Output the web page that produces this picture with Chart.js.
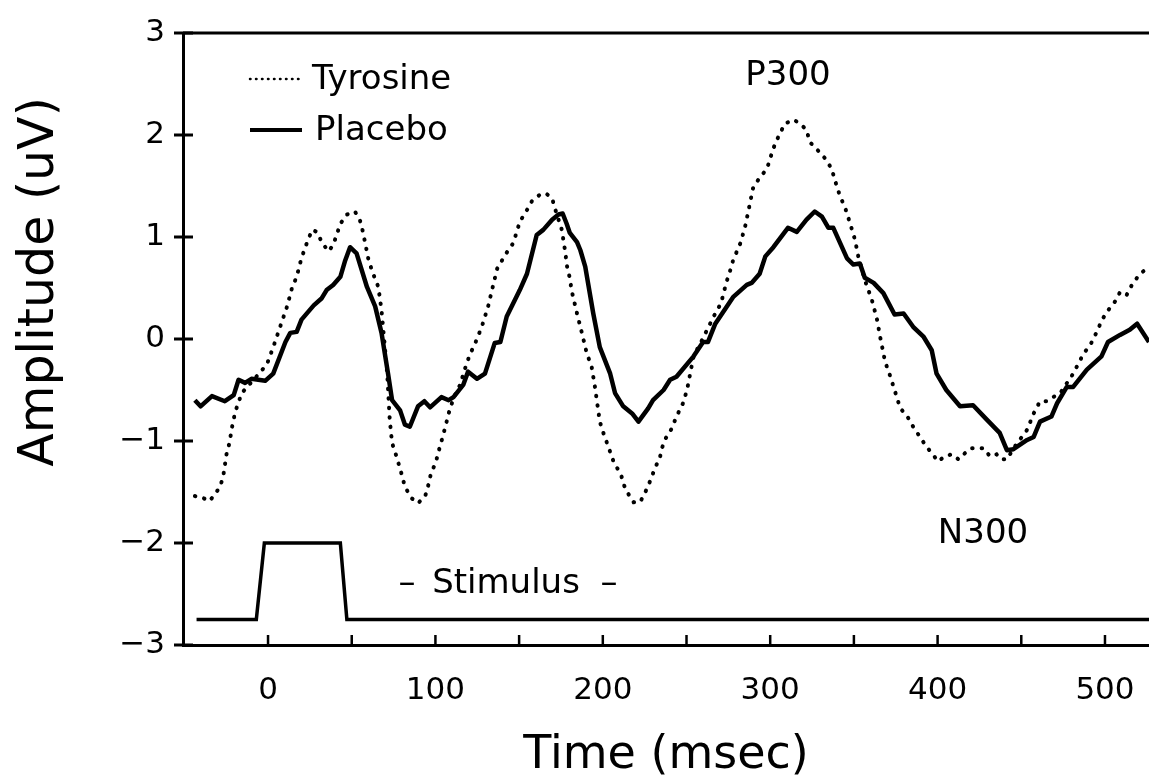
<!DOCTYPE html>
<html>
<head>
<meta charset="utf-8">
<title>Tyrosine vs Placebo</title>
<script src="https://cdn.jsdelivr.net/npm/chart.js@4.4.1/dist/chart.umd.min.js"></script>
<style>
  html, body { margin: 0; padding: 0; background: #fff; }
  #wrap { width: 1149px; height: 780px; }
</style>
</head>
<body>
<div id="wrap"><canvas id="erpChart" width="1149" height="780"></canvas></div>
<script>
// =============================
// Data
// =============================

const tyrosineTime = [
  -43.7, -39.8, -35.0, -32.1, -28.7, -26.8, -25.8, -24.8, -22.9, -22.0,
  -21.0, -19.5, -15.7, -7.0, -0.7, 3.1, 6.0, 8.9, 11.4, 14.3,
  17.1, 19.6, 22.0, 26.3, 29.2, 32.1, 36.0, 38.9, 43.2, 47.1,
  51.9, 54.8, 56.7, 60.1, 63.0, 65.9, 67.8, 69.8, 71.2, 72.7,
  74.1, 76.5, 79.4, 81.8, 85.7, 89.6, 93.9, 95.8, 97.3, 100.2,
  102.1, 104.5, 106.4, 107.9, 110.8, 114.7, 117.5, 120.4, 123.8, 127.7,
  131.5, 133.5, 136.9, 141.2, 143.1, 146.5, 148.4, 150.4, 154.2, 157.6,
  162.0, 165.8, 169.7, 171.6, 175.5, 177.4, 178.9, 180.3, 181.3, 184.6,
  187.5, 190.4, 193.3, 195.3, 198.2, 200.1, 202.5, 204.9, 206.8, 210.7,
  212.6, 214.1, 218.4, 222.3, 225.7, 228.6, 231.5, 233.9, 235.3, 237.7,
  241.1, 244.0, 247.9, 250.3, 254.2, 259.9, 266.2, 270.6, 273.9, 275.9,
  277.8, 282.2, 285.0, 287.9, 289.9, 293.7, 298.1, 300.0, 301.9, 304.8,
  308.7, 314.0, 317.9, 321.7, 323.7, 329.0, 332.8, 336.7, 338.6, 341.5,
  344.9, 347.8, 350.7, 352.6, 356.5, 360.8, 363.7, 365.7, 368.6, 371.4,
  374.3, 377.7, 381.6, 385.4, 392.7, 396.5, 400.4, 404.3, 408.6, 412.5,
  416.3, 420.2, 427.4, 431.3, 435.2, 438.1, 441.4, 446.3, 453.5, 457.4,
  461.2, 465.1, 469.0, 473.3, 481.0, 487.3, 491.2, 496.0, 497.9, 501.8,
  506.1, 509.0, 512.9, 516.7, 521.1, 524.9, 526.3
];
const tyrosineUV = [
  -1.54, -1.55, -1.59, -1.53, -1.45, -1.35, -1.24, -1.13, -1.01, -0.91,
  -0.82, -0.71, -0.53, -0.37, -0.25, -0.08, 0.06, 0.2, 0.32, 0.5,
  0.61, 0.77, 0.89, 1.07, 1.05, 0.95, 0.86, 0.92, 1.13, 1.22,
  1.25, 1.17, 1.05, 0.77, 0.63, 0.51, 0.28, -0.08, -0.34, -0.79,
  -1.02, -1.14, -1.3, -1.45, -1.56, -1.61, -1.54, -1.43, -1.32, -1.21,
  -1.09, -0.95, -0.83, -0.73, -0.58, -0.45, -0.3, -0.16, -0.04, 0.12,
  0.32, 0.46, 0.69, 0.81, 0.86, 0.94, 1.04, 1.15, 1.25, 1.35,
  1.41, 1.43, 1.38, 1.27, 1.07, 0.87, 0.68, 0.6, 0.48, 0.25,
  0.06, -0.14, -0.27, -0.47, -0.81, -0.91, -1.02, -1.13, -1.22, -1.32,
  -1.43, -1.49, -1.6, -1.6, -1.49, -1.38, -1.25, -1.18, -1.07, -0.97,
  -0.88, -0.76, -0.63, -0.5, -0.17, 0.01, 0.22, 0.35, 0.56, 0.66,
  0.77, 0.94, 1.1, 1.33, 1.49, 1.58, 1.67, 1.77, 1.87, 1.98,
  2.11, 2.15, 2.11, 2.05, 1.93, 1.84, 1.77, 1.67, 1.56, 1.41,
  1.28, 1.13, 0.97, 0.81, 0.58, 0.38, 0.2, 0.02, -0.22, -0.35,
  -0.5, -0.68, -0.75, -0.86, -1.04, -1.12, -1.2, -1.15, -1.13, -1.18,
  -1.12, -1.07, -1.07, -1.15, -1.13, -1.18, -1.18, -1.05, -0.89, -0.73,
  -0.61, -0.61, -0.57, -0.53, -0.34, -0.14, -0.06, 0.1, 0.18, 0.28,
  0.37, 0.46, 0.43, 0.55, 0.64, 0.69, 0.7
];

const placeboTime = [
  -43.7, -40.3, -33.5, -25.8, -20.5, -17.6, -13.7, -9.9, -1.7, 3.1,
  10.4, 13.3, 17.1, 20.0, 27.3, 32.1, 35.0, 38.9, 43.2, 46.1,
  49.0, 52.9, 59.1, 64.0, 67.8, 71.7, 74.1, 78.9, 81.8, 84.7,
  89.6, 93.4, 96.8, 103.6, 107.9, 110.8, 116.6, 119.5, 124.8, 129.6,
  135.4, 138.8, 142.6, 150.4, 154.7, 160.5, 164.4, 169.7, 173.5, 176.0,
  178.4, 180.3, 184.6, 186.6, 189.5, 194.3, 198.2, 204.4, 207.3, 212.2,
  217.5, 221.3, 227.1, 230.0, 236.3, 240.2, 244.0, 254.2, 259.9, 262.8,
  267.2, 277.8, 286.0, 288.9, 293.7, 297.1, 301.9, 310.6, 315.9, 321.7,
  326.6, 330.9, 334.8, 337.7, 345.9, 349.7, 353.6, 356.5, 361.8, 367.6,
  374.3, 379.7, 385.4, 391.7, 396.5, 399.4, 405.2, 413.4, 421.2, 429.4,
  437.1, 441.4, 445.3, 453.5, 457.4, 461.2, 468.0, 471.4, 477.2, 481.0,
  489.2, 497.9, 501.8, 509.0, 514.8, 519.2, 526.3
];
const placeboUV = [
  -0.6, -0.66, -0.56, -0.61, -0.55, -0.4, -0.43, -0.39, -0.41, -0.34,
  -0.03, 0.06, 0.07, 0.19, 0.33, 0.4, 0.48, 0.53, 0.61, 0.77,
  0.9, 0.84, 0.51, 0.32, 0.06, -0.34, -0.6, -0.7, -0.84, -0.86,
  -0.66, -0.61, -0.67, -0.57, -0.6, -0.57, -0.45, -0.32, -0.39, -0.34,
  -0.04, -0.03, 0.22, 0.48, 0.64, 1.02, 1.07, 1.17, 1.22, 1.23,
  1.13, 1.04, 0.95, 0.87, 0.71, 0.25, -0.08, -0.34, -0.53, -0.66,
  -0.73, -0.81, -0.68, -0.6, -0.5, -0.4, -0.37, -0.17, -0.03, -0.03,
  0.15, 0.41, 0.53, 0.55, 0.64, 0.81, 0.9, 1.09, 1.05, 1.17,
  1.25, 1.2, 1.09, 1.09, 0.79, 0.73, 0.74, 0.6, 0.55, 0.45,
  0.24, 0.25, 0.12, 0.02, -0.11, -0.34, -0.5, -0.66, -0.65, -0.79,
  -0.92, -1.09, -1.08, -0.99, -0.96, -0.81, -0.76, -0.63, -0.47, -0.47,
  -0.3, -0.17, -0.03, 0.04, 0.09, 0.15, -0.03
];

const stimulusTime = [-42.7, -7.0, -2.2, 43.2, 47.1, 526.3];
const stimulusUV = [-2.75, -2.75, -2, -2, -2.75, -2.75];

const xLabelTicks = [0, 100, 200, 300, 400, 500];
const xMarkTicks = [0, 50, 100, 150, 200, 250, 300, 350, 400, 450, 500];
const yTicks = [-3, -2, -1, 0, 1, 2, 3];

const FONT = "'DejaVu Sans', 'Liberation Sans', sans-serif";


// =============================
// Helpers
// =============================

function toPoints(xs, ys) {
    return xs.map((x, i) => ({ x: x, y: ys[i] }));
}

function minusSign(v) {
    return v < 0 ? "\u2212" + Math.abs(v) : String(v);
}


// =============================
// Frame, ticks, legend, notes
// =============================

const framePlugin = {

    id: "frame",

    afterDatasetsDraw(chart) {

        const { ctx, chartArea: a } = chart;
        const x = chart.scales.x;
        const y = chart.scales.y;

        ctx.save();
        ctx.strokeStyle = "#000";
        ctx.fillStyle = "#000";

        // top edge
        ctx.lineWidth = 3;
        ctx.beginPath();
        ctx.moveTo(a.left, a.top);
        ctx.lineTo(a.right, a.top);
        ctx.stroke();

        // y ticks cross the axis
        yTicks.forEach(v => {
            const py = y.getPixelForValue(v);
            ctx.beginPath();
            ctx.moveTo(a.left - 9, py);
            ctx.lineTo(a.left + 10, py);
            ctx.stroke();
        });

        // x ticks point inward
        ctx.lineWidth = 2.5;
        xMarkTicks.forEach(v => {
            const px = x.getPixelForValue(v);
            ctx.beginPath();
            ctx.moveTo(px, a.bottom);
            ctx.lineTo(px, a.bottom - 10);
            ctx.stroke();
        });

        // legend
        ctx.lineCap = "round";
        ctx.lineWidth = 2.5;
        ctx.setLineDash([0.5, 5.5]);
        ctx.beginPath();
        ctx.moveTo(250, 79);
        ctx.lineTo(302, 79);
        ctx.stroke();

        ctx.setLineDash([]);
        ctx.lineCap = "butt";
        ctx.lineWidth = 4;
        ctx.beginPath();
        ctx.moveTo(250, 130);
        ctx.lineTo(302, 130);
        ctx.stroke();

        ctx.font = "34px " + FONT;
        ctx.textBaseline = "middle";
        ctx.textAlign = "left";
        ctx.fillText("Tyrosine", 312, 80);
        ctx.fillText("Placebo", 315, 131);

        // component labels
        ctx.textAlign = "center";
        ctx.fillText("P300", 788, 76);
        ctx.fillText("N300", 983, 534);
        ctx.fillText("Stimulus", 506, 584);
        ctx.fillText("\u2013", 407, 584);
        ctx.fillText("\u2013", 609, 584);

        // y title
        ctx.save();
        ctx.translate(40, 282);
        ctx.rotate(-Math.PI / 2);
        ctx.font = "49px " + FONT;
        ctx.fillText("Amplitude (uV)", 0, 0);
        ctx.restore();

        ctx.restore();
    }
};


// =============================
// Chart
// =============================

const erpChart = new Chart(document.getElementById("erpChart"), {

    type: "line",

    data: {
        datasets: [
            {
                label: "Tyrosine",
                data: toPoints(tyrosineTime, tyrosineUV),
                borderColor: "#000",
                borderWidth: 4,
                borderDash: [0.5, 9],
                borderCapStyle: "round",
                pointRadius: 0,
                tension: 0
            },
            {
                label: "Placebo",
                data: toPoints(placeboTime, placeboUV),
                borderColor: "#000",
                borderWidth: 4.5,
                borderJoinStyle: "round",
                pointRadius: 0,
                tension: 0
            },
            {
                label: "Stimulus",
                data: toPoints(stimulusTime, stimulusUV),
                borderColor: "#000",
                borderWidth: 3.5,
                pointRadius: 0,
                tension: 0
            }
        ]
    },

    options: {
        responsive: false,
        animation: false,
        layout: { padding: { top: 33, right: 0, bottom: 0, left: 0 } },
        plugins: {
            legend: { display: false },
            tooltip: { enabled: false }
        },
        scales: {
            x: {
                type: "linear",
                min: -50.8,
                max: 526.3,
                afterBuildTicks: s => { s.ticks = xLabelTicks.map(v => ({ value: v })); },
                afterFit: s => {
                    s.height = 135;
                    s.paddingLeft = 0;
                    s.paddingRight = 0;
                },
                grid: { display: false, drawTicks: false, tickLength: 0 },
                border: { display: true, color: "#000", width: 3 },
                ticks: {
                    padding: 27,
                    color: "#000",
                    maxRotation: 0,
                    autoSkip: false,
                    font: { family: FONT, size: 31 }
                },
                title: {
                    display: true,
                    text: "Time (msec)",
                    color: "#000",
                    font: { family: FONT, size: 46, lineHeight: 1 },
                    padding: { top: 0, bottom: 1 }
                }
            },
            y: {
                min: -3,
                max: 3,
                afterBuildTicks: s => { s.ticks = yTicks.map(v => ({ value: v })); },
                afterFit: s => {
                    s.width = 183;
                    s.paddingTop = 0;
                    s.paddingBottom = 0;
                },
                grid: { display: false, drawTicks: false, tickLength: 0 },
                border: { display: true, color: "#000", width: 3 },
                ticks: {
                    padding: 18,
                    color: "#000",
                    font: { family: FONT, size: 31 },
                    callback: v => minusSign(v)
                }
            }
        }
    },

    plugins: [framePlugin]
});
</script>
</body>
</html>
